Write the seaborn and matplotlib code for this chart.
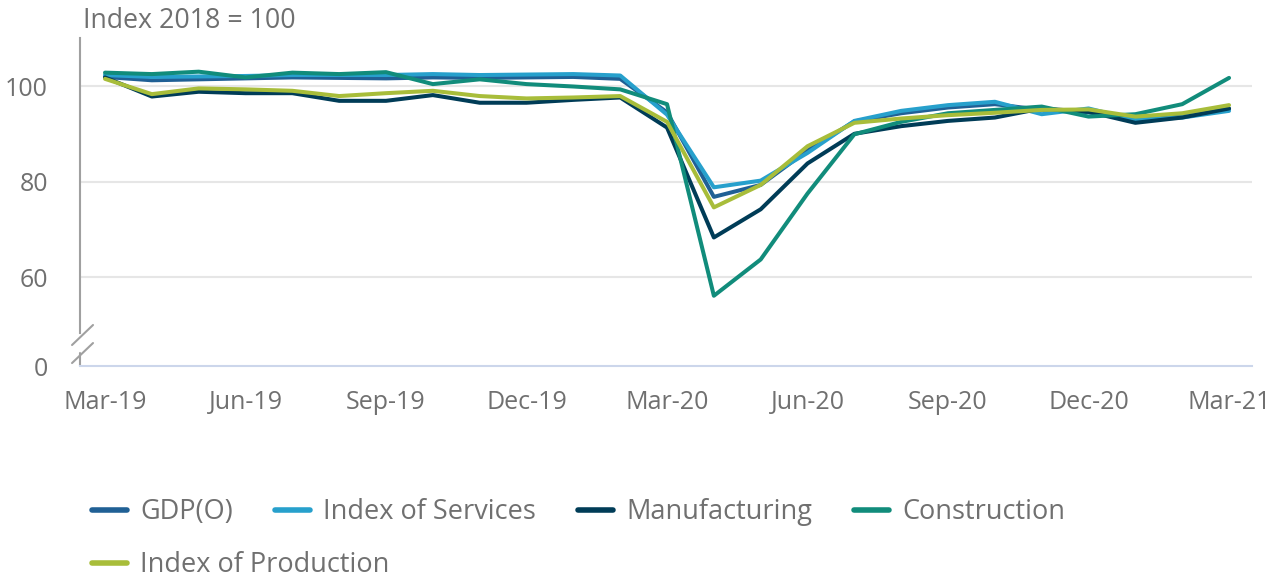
import numpy as np
import pandas as pd
import matplotlib
matplotlib.use('Agg')
import matplotlib.pyplot as plt
import seaborn as sns

# Monthly index values, Mar-19 to Mar-21 (Index 2018 = 100)
months = ['Mar-19', 'Apr-19', 'May-19', 'Jun-19', 'Jul-19', 'Aug-19', 'Sep-19',
          'Oct-19', 'Nov-19', 'Dec-19', 'Jan-20', 'Feb-20', 'Mar-20', 'Apr-20',
          'May-20', 'Jun-20', 'Jul-20', 'Aug-20', 'Sep-20', 'Oct-20', 'Nov-20',
          'Dec-20', 'Jan-21', 'Feb-21', 'Mar-21']

gdp = [101.9, 101.2, 101.4, 101.6, 101.8, 101.7, 101.6, 101.8, 101.7, 101.8, 101.9, 101.5,
       94.5, 76.8, 79.3, 86.5, 92.6, 94.3, 95.5, 96.2, 95.0, 94.5, 92.8, 93.7, 95.2]
services = [102.3, 101.9, 102.0, 102.1, 102.3, 102.3, 102.3, 102.5, 102.3, 102.4, 102.5, 102.2,
            94.0, 78.8, 80.2, 86.0, 92.7, 94.8, 96.0, 96.7, 94.1, 95.3, 92.9, 93.4, 94.8]
manufacturing = [101.8, 97.8, 98.8, 98.5, 98.5, 96.9, 96.9, 98.1, 96.5, 96.5, 97.1, 97.6,
                 91.3, 68.3, 74.2, 83.8, 90.0, 91.6, 92.7, 93.4, 95.3, 94.6, 92.3, 93.4, 95.3]
construction = [102.8, 102.5, 103.0, 101.8, 102.8, 102.5, 102.9, 100.4, 101.4, 100.4, 99.9, 99.3,
                96.2, 56.1, 63.7, 77.5, 89.9, 92.5, 94.3, 95.0, 95.7, 93.6, 94.1, 96.2, 101.7]
production = [101.5, 98.3, 99.5, 99.3, 99.0, 97.9, 98.5, 99.0, 97.9, 97.4, 97.6, 97.9,
              92.5, 74.6, 79.3, 87.4, 92.3, 93.2, 93.9, 94.4, 95.0, 95.1, 93.6, 94.3, 96.0]

series_names = ['GDP(O)', 'Index of Services', 'Manufacturing', 'Construction', 'Index of Production']
colors = ['#206095', '#27a0cc', '#003c57', '#118c7b', '#a8bd3a']

y_ticks = [60, 80, 100]
y_break = 41.4   # where the broken axis shows "0"

df = pd.DataFrame({'month': months, 'pos': np.arange(len(months)),
                   'GDP(O)': gdp, 'Index of Services': services,
                   'Manufacturing': manufacturing, 'Construction': construction,
                   'Index of Production': production})
long_df = df.melt(id_vars=['month', 'pos'], var_name='series', value_name='value')

sns.set_style('white')
plt.rcParams['font.family'] = ['Open Sans', 'DejaVu Sans']
grey = '#707070'

fig = plt.figure(figsize=(12.76, 5.77), dpi=100)
ax = fig.add_axes([80 / 1276, 211 / 577, 1172 / 1276, 328 / 577])

for name, col in zip(series_names, colors):
    sns.lineplot(data=long_df[long_df['series'] == name], x='pos', y='value',
                 color=col, linewidth=2.9, label=name, ax=ax, legend=False)

ax.set_xlim(-0.534, len(months) - 1 + 0.49)
ax.set_ylim(y_break, 110.05)

# axes styling
ax.set_xlabel('')
ax.set_ylabel('')
ax.set_xticks(range(0, len(months), 3))
ax.set_xticklabels(months[::3])
ax.set_yticks([y_break] + y_ticks)
ax.set_yticklabels(['0'] + [str(t) for t in y_ticks])
ax.tick_params(axis='x', length=14.4, width=1.3, color='#ccd6eb', pad=3,
               labelsize=18, labelcolor=grey)
ax.tick_params(axis='y', length=0, pad=23, labelsize=18, labelcolor=grey)
ax.grid(axis='y', color='#e6e6e6', linewidth=1.5)
ax.yaxis.get_gridlines()[0].set_visible(False)
ax.set_axisbelow(True)

for s in ['top', 'right']:
    ax.spines[s].set_visible(False)
ax.spines['bottom'].set_color('#ccd6eb')
ax.spines['bottom'].set_linewidth(1.5)
ax.spines['left'].set_color('#a0a0a0')
ax.spines['left'].set_linewidth(1.5)
ax.spines['left'].set_bounds(48.3, 110.05)

# axis break marks
brk = dict(color='#a0a0a0', linewidth=1.5, transform=ax.transAxes, clip_on=False)
ax.plot([0, 0], [0, 0.04], **brk)
ax.plot([-0.0068, 0.0111], [0.064, 0.125], **brk)
ax.plot([-0.0068, 0.0111], [0.009, 0.070], **brk)

fig.text(83 / 1276, 1 - 21 / 577, 'Index 2018 = 100', fontsize=19.3, color=grey, va='center')

# legend, flowing left-to-right like the original
handles, labels = ax.get_legend_handles_labels()
leg_kw = dict(frameon=False, fontsize=19.5, handlelength=1.3, handleheight=0.7,
              handletextpad=0.48, columnspacing=1.55, labelcolor=grey,
              borderaxespad=0, borderpad=0)
leg1 = fig.legend(handles[:4], labels[:4], ncol=4, loc='center left',
                  bbox_to_anchor=(92 / 1276, 1 - 512 / 577), **leg_kw)
leg2 = fig.legend(handles[4:], labels[4:], ncol=1, loc='center left',
                  bbox_to_anchor=(92 / 1276, 1 - 565 / 577), **leg_kw)
for leg in (leg1, leg2):
    for line in leg.get_lines():
        line.set_linewidth(4)

fig.savefig('out.png', dpi=100)
